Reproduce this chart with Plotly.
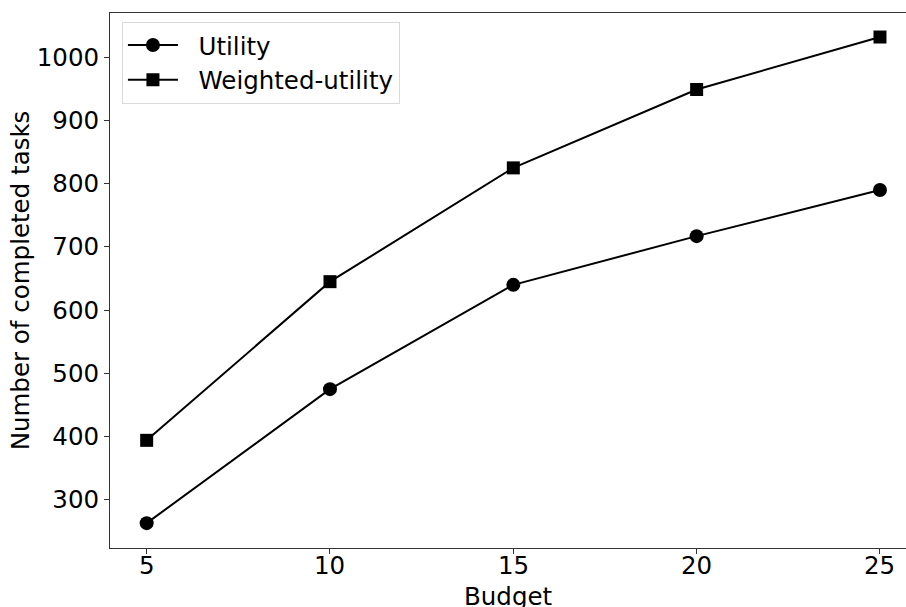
import plotly.graph_objects as go

budget = [5, 10, 15, 20, 25]
utility = [263, 475, 640, 717, 790]
weighted_utility = [394, 645, 825, 949, 1032]
y_ticks = [300, 400, 500, 600, 700, 800, 900, 1000]
x_tick_labels = ["5", "10", "15", "20", "25"]
series_names = ["Utility", "Weighted-utility"]
x_title = "Budget"
y_title = "Number of completed tasks"

FONT = "DejaVu Sans"
FS = 24.5
PAD = "\u00a0\u00a0"
PLOT_H = 607 - 13 - 59  # plot-area height in px


def px_below(px):
    """paper y coordinate for a point px pixels below the bottom spine"""
    return -px / PLOT_H


fig = go.Figure()
fig.add_trace(go.Scatter(
    x=budget, y=utility, name=PAD + series_names[0], mode="lines+markers",
    line=dict(color="black", width=2),
    marker=dict(symbol="circle", size=14, color="black"),
))
fig.add_trace(go.Scatter(
    x=budget, y=weighted_utility, name=PAD + series_names[1], mode="lines+markers",
    line=dict(color="black", width=2),
    marker=dict(symbol="square", size=13, color="black"),
))

annotations = [
    dict(x=b, y=px_below(17.5), xref="x", yref="paper", text=t,
         showarrow=False, xanchor="center", yanchor="middle",
         font=dict(family=FONT, size=FS, color="black"))
    for b, t in zip(budget, x_tick_labels)
]
annotations.append(dict(
    x=0.5, y=px_below(48.4), xref="paper", yref="paper", text=x_title,
    showarrow=False, xanchor="center", yanchor="middle",
    font=dict(family=FONT, size=FS, color="black"),
))

fig.update_layout(
    width=906, height=607,
    margin=dict(l=110, r=0, t=13, b=59, autoexpand=False),
    paper_bgcolor="white", plot_bgcolor="white",
    font=dict(family=FONT, size=FS, color="black"),
    showlegend=True,
    legend=dict(
        x=0.015, y=0.984, xanchor="left", yanchor="top",
        bgcolor="rgba(255,255,255,0.8)", bordercolor="#d9d9d9", borderwidth=1,
        font=dict(family=FONT, size=FS, color="black"),
        tracegroupgap=0, itemwidth=50,
    ),
    annotations=annotations,
    xaxis=dict(
        range=[4.0, 25.71], tickvals=budget, showticklabels=False,
        showgrid=False, zeroline=False,
        showline=True, linecolor="#333333", linewidth=1, mirror=True,
        ticks="outside", ticklen=5, tickcolor="#333333",
    ),
    yaxis=dict(
        range=[223.7, 1070], tickvals=y_ticks,
        showgrid=False, zeroline=False,
        showline=True, linecolor="#333333", linewidth=1, mirror=False,
        ticks="outside", ticklen=5, tickcolor="#333333",
        title=dict(text=y_title, standoff=0, font=dict(size=FS)),
        tickfont=dict(size=FS),
    ),
)

fig.write_html(
    "out.html",
    config={"displayModeBar": False},
    post_script="document.body.style.margin='0';document.body.style.overflow='hidden';",
)
